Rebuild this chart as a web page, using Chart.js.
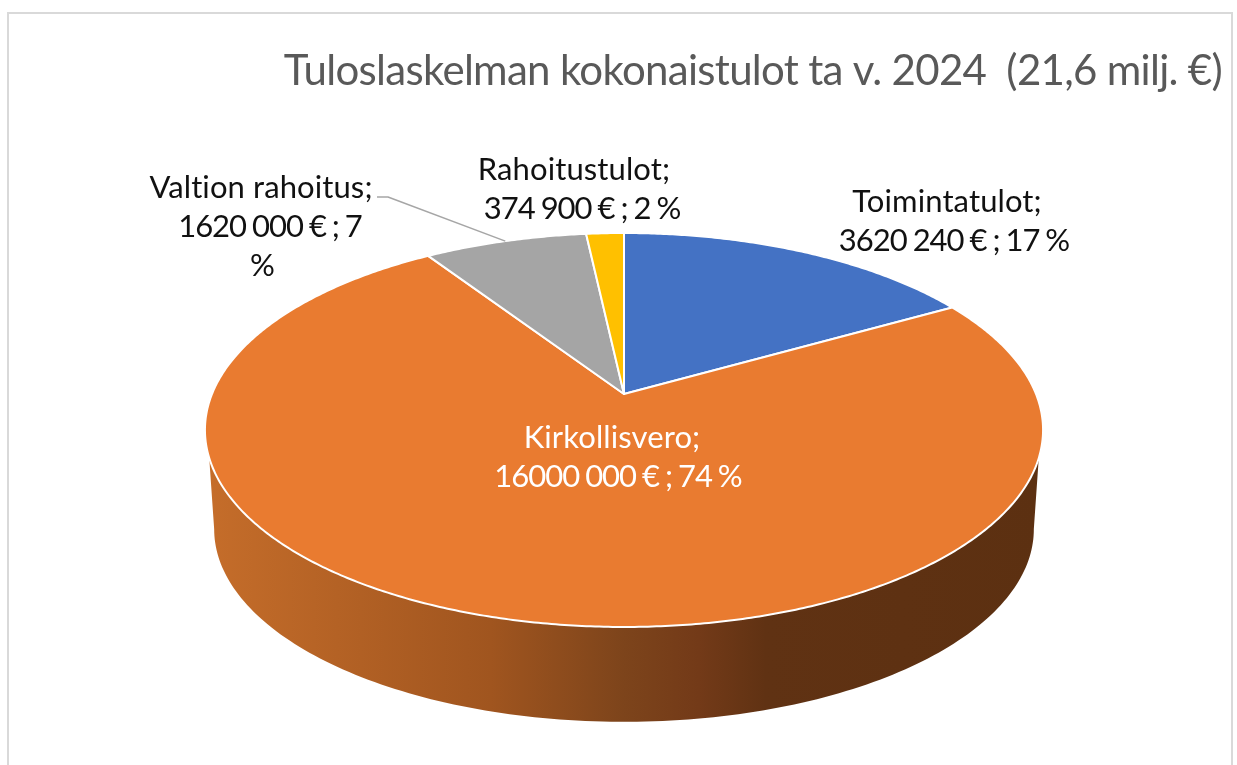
<!DOCTYPE html>
<html>
<head>
<meta charset="utf-8">
<title>Tuloslaskelman kokonaistulot</title>
<script src="https://cdn.jsdelivr.net/npm/chart.js@4"></script>
<style>
    html, body { margin: 0; padding: 0; background: #ffffff; overflow: hidden; }
    canvas { display: block; }
</style>
</head>
<body>
<canvas id="pieChart" width="1237" height="765"></canvas>
<script>
const categories = ["Toimintatulot", "Kirkollisvero", "Valtion rahoitus", "Rahoitustulot"];
const values = [3620240, 16000000, 1620000, 374900];
const sliceColors = ["#4472C4", "#E97B30", "#A5A5A5", "#FFC000"];
const chartTitle = "Tuloslaskelman kokonaistulot ta v. 2024  (21,6 milj. €)";

// label text wraps as in the original
const labelLines = [
    ["Toimintatulot;", "3620 240 € ; 17 %"],
    ["Kirkollisvero;", "16000 000 € ; 74 %"],
    ["Valtion rahoitus;", "1620 000 € ; 7", "%"],
    ["Rahoitustulot;", "374 900 € ; 2 %"]
];
// centre x of each line, baseline of the first line
const labelCentres = [[947, 954], [612, 618], [261, 270, 262], [574, 582]];
const labelBaselines = [212, 448, 198, 180];
const labelColors = ["#111111", "#FFFFFF", "#111111", "#111111"];

const FONT = "Lato, 'Open Sans', sans-serif";

// perspective of the tilted disc, see project()
const DISC = { a: 412, b: 190.4, c: -0.1827 };
const WALL = { topFrom: 108.5, topTo: 251.5, baseFrom: 100.5, baseTo: 259.5, scale: 0.978, drop: 100 };

function project(arc, deg, scale, drop) {
    const t = deg * Math.PI / 180;
    const u = Math.sin(t);
    const v = -Math.cos(t);
    const w = 1 + DISC.c * v;
    return {
        x: arc.x + scale * DISC.a * u / w,
        y: arc.y + scale * DISC.b * v / w + drop
    };
}

function toDeg(angle) {
    return (angle + Math.PI / 2) * 180 / Math.PI;
}

const framePlugin = {
    id: "frame",
    beforeDraw(chart) {
        const ctx = chart.ctx;
        ctx.save();
        ctx.strokeStyle = "#D9D9D9";
        ctx.lineWidth = 2;
        ctx.strokeRect(8, 13, 1224, 800);
        ctx.restore();
        // the title box is drawn right after this, Calibri runs narrower than Lato
        ctx.letterSpacing = "-0.7px";
    }
};

const discPlugin = {
    id: "disc",
    beforeDatasetDraw(chart) {
        const ctx = chart.ctx;
        ctx.letterSpacing = "0px";
        const arcs = chart.getDatasetMeta(0).data;

        // side wall
        const grad = ctx.createLinearGradient(207, 0, 1041, 0);
        grad.addColorStop(0, "#C56D2A");
        grad.addColorStop(0.34, "#A0551F");
        grad.addColorStop(0.5, "#7D441B");
        grad.addColorStop(0.59, "#733A18");
        grad.addColorStop(0.67, "#603213");
        grad.addColorStop(1, "#5C3011");
        arcs.forEach(arc => {
            const start = toDeg(arc.startAngle);
            const end = toDeg(arc.endAngle);
            if (start >= WALL.topFrom || end <= WALL.topTo) return;
            ctx.beginPath();
            for (let d = WALL.topFrom; d <= WALL.topTo; d += 1) {
                const p = project(arc, d, 1, 0);
                ctx.lineTo(p.x, p.y);
            }
            for (let d = WALL.baseTo; d >= WALL.baseFrom; d -= 1) {
                const p = project(arc, d, WALL.scale, WALL.drop);
                ctx.lineTo(p.x, p.y);
            }
            ctx.closePath();
            ctx.fillStyle = grad;
            ctx.fill();
        });

        // top face
        arcs.forEach((arc, i) => {
            const from = toDeg(arc.startAngle);
            const to = toDeg(arc.endAngle);
            ctx.beginPath();
            ctx.moveTo(arc.x, arc.y);
            for (let d = from; d < to; d += 0.5) {
                const p = project(arc, d, 1, 0);
                ctx.lineTo(p.x, p.y);
            }
            const end = project(arc, to, 1, 0);
            ctx.lineTo(end.x, end.y);
            ctx.closePath();
            ctx.fillStyle = sliceColors[i];
            ctx.fill();
            ctx.strokeStyle = "#FFFFFF";
            ctx.lineWidth = 2;
            ctx.lineJoin = "round";
            ctx.stroke();
        });
        return false;
    }
};

const labelPlugin = {
    id: "sliceLabels",
    afterDraw(chart) {
        const ctx = chart.ctx;
        const arcs = chart.getDatasetMeta(0).data;
        ctx.save();

        // leader line of the grey slice
        const grey = arcs[2];
        const mid = project(grey, (toDeg(grey.startAngle) + toDeg(grey.endAngle)) / 2, 1, 0);
        ctx.beginPath();
        ctx.moveTo(mid.x, mid.y);
        ctx.lineTo(388, 197);
        ctx.lineTo(377, 197);
        ctx.strokeStyle = "#A6A6A6";
        ctx.lineWidth = 1.5;
        ctx.stroke();

        ctx.font = "400 31px " + FONT;
        ctx.textAlign = "center";
        ctx.textBaseline = "alphabetic";
        labelLines.forEach((lines, i) => {
            ctx.fillStyle = labelColors[i];
            lines.forEach((line, n) => {
                // first line is the name, digits need tightening
                ctx.letterSpacing = n === 0 ? "0.1px" : "-1px";
                ctx.wordSpacing = n === 0 ? "0px" : "-1px";
                ctx.fillText(line, labelCentres[i][n], labelBaselines[i] + n * 39);
            });
        });
        ctx.restore();
    }
};

new Chart(document.getElementById("pieChart"), {
    type: "pie",
    data: {
        labels: categories,
        datasets: [{ data: values, backgroundColor: sliceColors }]
    },
    options: {
        responsive: false,
        animation: false,
        rotation: 0,
        layout: { padding: { left: 26, right: 15, top: 0, bottom: 77 } },
        plugins: {
            legend: { display: false },
            tooltip: { enabled: false },
            title: {
                display: true,
                text: chartTitle,
                align: "end",
                color: "#595959",
                font: { family: FONT, size: 42, weight: "400" },
                padding: { top: 46, bottom: 3.6 }
            }
        }
    },
    plugins: [framePlugin, discPlugin, labelPlugin]
});
</script>
</body>
</html>
